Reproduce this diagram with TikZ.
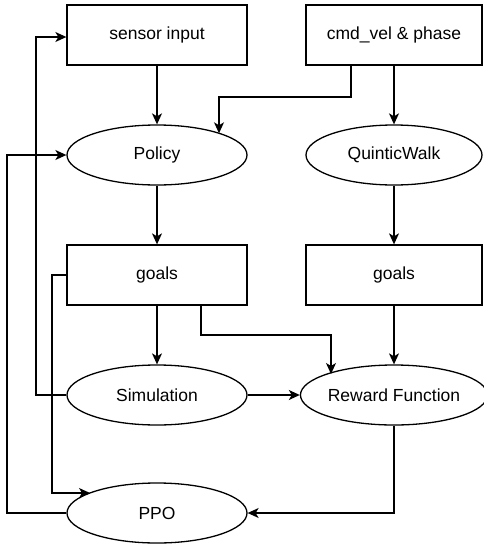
\documentclass[tikz,border=0pt]{standalone}
\usepackage{fontspec}
\setmainfont{Liberation Sans}
\usetikzlibrary{shapes.geometric,arrows.meta}
\begin{document}
\begin{tikzpicture}[x=1pt,y=-1pt,
  every node/.style={font=\fontsize{17.5}{20}\selectfont, inner sep=0pt},
  blk/.style={draw, line width=1.3pt, rectangle, minimum height=60pt},
  oval/.style={draw, line width=1.3pt, ellipse, minimum height=60pt},
  wideL/.style={minimum width=180pt},
  wideR/.style={minimum width=176pt},
  link/.style={line width=1.3pt, -{Stealth[length=11pt,width=10pt,inset=3pt]}},
  plain/.style={line width=1.3pt}]
\useasboundingbox (0,0) rectangle (483,544);
% left column
\node[blk,wideL]  (sensor) at (157,35)  {sensor input};
\node[oval,wideL] (policy) at (157,155) {Policy};
\node[blk,wideL]  (goalsL) at (157,275) {goals};
\node[oval,wideL] (sim)    at (157,395) {Simulation};
\node[oval,wideL] (ppo)    at (157,513) {PPO};
% right column
\node[blk,wideR]  (cmd)    at (394,35)  {cmd\_vel \& phase};
\node[oval,wideR] (quintic) at (394,155) {QuinticWalk};
\node[blk,wideR]  (goalsR) at (394,275) {goals};
\node[oval,wideR] (reward) at (394,395) {Reward Function};
% helper coordinates for bends
\coordinate (cmdA)   at (351,65);
\coordinate (polB)   at (219,133.3);
\coordinate (glA)    at (201,305);
\coordinate (rwB)    at (331,374);
\coordinate (ppoA)   at (90,493);
% straight links
\draw[link] (sensor) -- (policy);
\draw[link] (cmd) -- (quintic);
\draw[link] (policy) -- (goalsL);
\draw[link] (quintic) -- (goalsR);
\draw[link] (goalsL) -- (sim);
\draw[link] (goalsR) -- (reward);
\draw[link] (sim) -- (reward);
% elbow links
\draw[link] (cmdA) -- (351,97) -- (219,97) -- (polB);
\draw[link] (glA) -- (201,335) -- (331,335) -- (rwB);
\draw[link] (sim.west) -- (36,395) -- (36,37) -- (sensor.west |- 0,37);
\draw[link] (ppo.west) -- (7,513) -- (7,155) -- (policy.west);
\draw[link] (goalsL.west) -- (52,275) -- (52,493) -- (ppoA);
\draw[link] (reward.south) -- (394,513) -- (ppo.east);
\end{tikzpicture}
\end{document}
